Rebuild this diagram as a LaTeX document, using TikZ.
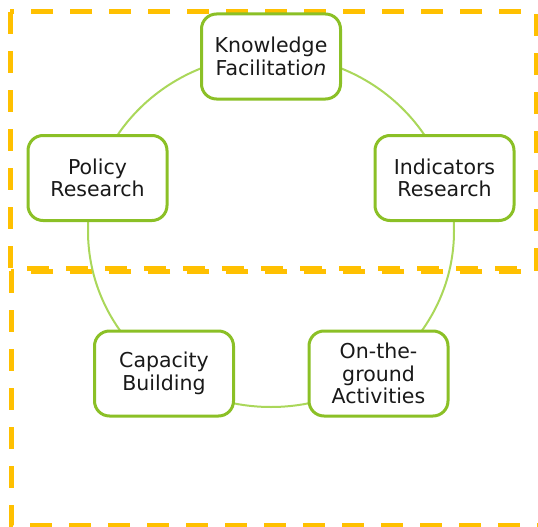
\documentclass[tikz,border=0pt]{standalone}
\usepackage{fontspec}
\setmainfont{DejaVu Sans}
\usepackage{xcolor}
\usepackage{tikz}
\usetikzlibrary{calc}
\definecolor{boxgreen}{RGB}{139,192,38}
\definecolor{ringgreen}{RGB}{170,215,90}
\definecolor{gold}{RGB}{255,192,0}
\tikzset{
	actbox/.style={draw=boxgreen,line width=3pt,fill=white,rounded corners=15pt,
		minimum width=139pt,minimum height=85pt,align=center,inner sep=2pt,
		font=\fontsize{20.5}{22.5}\selectfont,text=black!90},
	ring/.style={draw=ringgreen,line width=2pt},
	zone/.style={draw=gold,line width=5pt,dash pattern=on 22pt off 17pt}
}
\begin{document}
\begin{tikzpicture}[x=1pt,y=-1pt]
	\useasboundingbox (0,0) rectangle (538,527);
	\draw[zone] (11,271) -- (11,525) -- (560,525);
	\draw[zone] (560,271) -- (11,271);
	\draw[zone] (10,12) rectangle (536,268);
	\coordinate (hub) at (271,231);
	\draw[ring] (hub) ellipse [x radius=183pt,y radius=176pt];
		\node[actbox] (know) at (271,56.5) {Knowledge\\Facilitati\textit{on}};
		\node[actbox] (policy) at (97.5,178) {Policy\\Research};
		\node[actbox] (indic) at (444.5,178) {Indicators\\Research};
		\node[actbox] (capac) at (164,373.5) {Capacity\\Building};
		\node[actbox] (ground) at (378.5,373.5) {On-the-\\ground\\Activities};
\end{tikzpicture}
\end{document}
